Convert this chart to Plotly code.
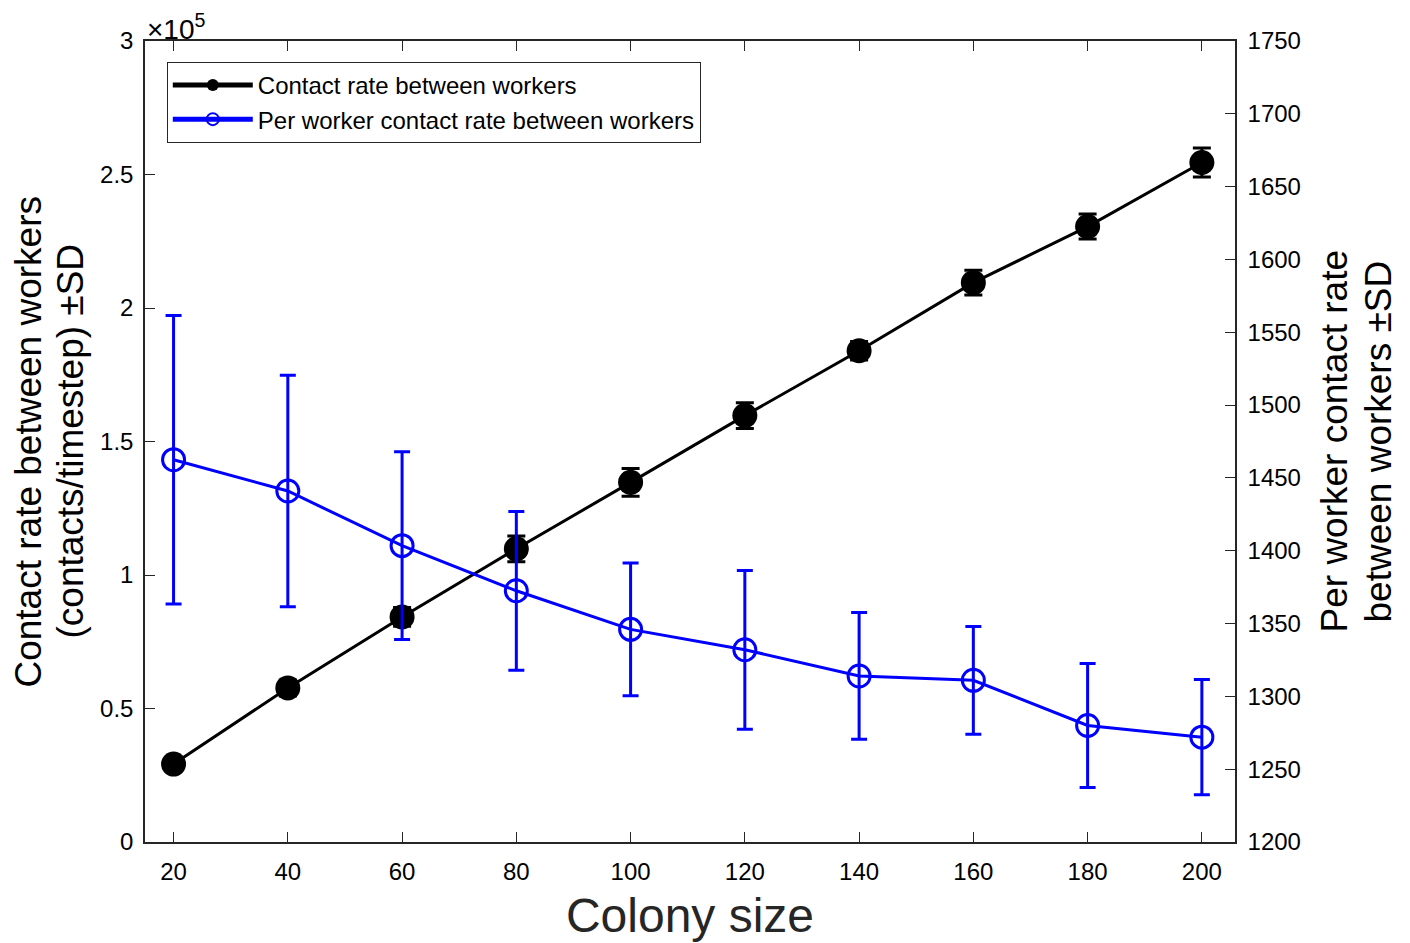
import plotly.graph_objects as go

colony_size = [20, 40, 60, 80, 100, 120, 140, 160, 180, 200]
contact_rate = [29200, 57700, 84300, 109800, 134700, 159700, 184000, 209500, 230500, 254500]
contact_sd = [2000, 3000, 3500, 4800, 5200, 4800, 3500, 4600, 4700, 5400]
per_worker = [1462.5, 1441, 1403.5, 1372.5, 1346, 1332, 1314, 1311, 1280, 1272]
per_worker_sd = [99, 79.5, 64.5, 54.5, 45.5, 54.5, 43.5, 37, 42.5, 39.5]

left_ticks = [0, 50000, 100000, 150000, 200000, 250000, 300000]
left_ticktext = ["0", "0.5", "1", "1.5", "2", "2.5", "3"]
right_ticks = list(range(1200, 1751, 50))
x_ticks = colony_size

left_title = ["Contact rate between workers", "(contacts/timestep) ±SD"]
right_title = ["Per worker contact rate", "between workers ±SD"]

FONT = "Liberation Sans, Arial, sans-serif"
AX = "#262626"

fig = go.Figure()
fig.add_trace(go.Scatter(
    x=colony_size, y=contact_rate, name="Contact rate between workers",
    mode="lines+markers",
    line=dict(color="black", width=3),
    marker=dict(color="black", size=25, symbol="circle"),
    error_y=dict(type="data", array=contact_sd, color="black", thickness=3, width=9),
    yaxis="y",
))
fig.add_trace(go.Scatter(
    x=colony_size, y=per_worker, name="Per worker contact rate between workers",
    mode="lines+markers",
    line=dict(color="#0000ff", width=3),
    marker=dict(color="#0000ff", size=22, symbol="circle-open",
                line=dict(color="#0000ff", width=3)),
    error_y=dict(type="data", array=per_worker_sd, color="#0000ff", thickness=3, width=8),
    yaxis="y2",
))

annotations = [dict(
    text="×10<sup>5</sup>", xref="paper", yref="paper", x=0.0, y=1.0,
    xanchor="left", yanchor="bottom", showarrow=False, yshift=-6,
    font=dict(size=28, family=FONT, color="black"),
)]
for txt, xp in zip(left_title, [-0.1073, -0.0688]):
    annotations.append(dict(
        text=txt, xref="paper", yref="paper", x=xp, y=0.5, textangle=-90,
        xanchor="center", yanchor="middle", showarrow=False,
        font=dict(size=37, family=FONT, color="black"),
    ))
for txt, xp in zip(right_title, [1.0917, 1.1312]):
    annotations.append(dict(
        text=txt, xref="paper", yref="paper", x=xp, y=0.5, textangle=-90,
        xanchor="center", yanchor="middle", showarrow=False,
        font=dict(size=37, family=FONT, color="black"),
    ))

fig.update_layout(
    width=1410, height=943,
    margin=dict(l=145, r=175, t=41, b=101, autoexpand=False),
    plot_bgcolor="white", paper_bgcolor="white",
    font=dict(family=FONT, size=24, color="black"),
    showlegend=True,
    legend=dict(
        x=0.02, y=0.974, xanchor="left", yanchor="top",
        bgcolor="white", bordercolor=AX, borderwidth=1,
        font=dict(size=24, family=FONT, color="black"),
        itemwidth=80, itemsizing="constant",
        tracegroupgap=0,
    ),
    xaxis=dict(
        range=[15, 205.8], tickvals=x_ticks, ticks="inside", ticklen=10,
        tickcolor=AX, showline=True, linecolor=AX, linewidth=1.5, mirror="ticks",
        showgrid=False, zeroline=False, ticklabelstandoff=7, automargin=False,
        tickfont=dict(size=24, family=FONT, color="black"),
        title=dict(text="Colony size", font=dict(size=48, family=FONT, color="#262626"), standoff=15),
    ),
    yaxis=dict(
        range=[0, 300000], tickvals=left_ticks, ticktext=left_ticktext,
        ticks="inside", ticklen=10, tickcolor=AX, automargin=False,
        showline=True, linecolor=AX, linewidth=1.5, mirror=False,
        showgrid=False, zeroline=False, ticklabelstandoff=5,
        tickfont=dict(size=24, family=FONT, color="black"),
    ),
    yaxis2=dict(
        range=[1200, 1750], tickvals=right_ticks, overlaying="y", side="right",
        ticks="inside", ticklen=10, tickcolor=AX, automargin=False,
        showline=True, linecolor=AX, linewidth=1.5,
        showgrid=False, zeroline=False, ticklabelstandoff=6,
        tickfont=dict(size=24, family=FONT, color="black"),
    ),
    annotations=annotations,
)

fig.write_html("out.html")
